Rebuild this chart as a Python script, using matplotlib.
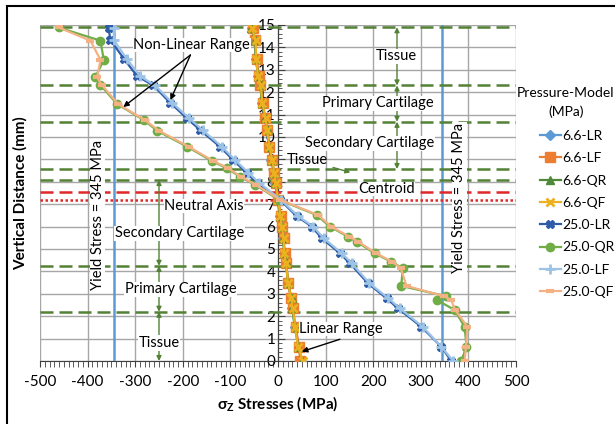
import matplotlib.pyplot as plt
import matplotlib.patches as patches

plt.rcParams['font.family'] = ['Lato', 'DejaVu Sans']
plt.rcParams['axes.unicode_minus'] = False
plt.rcParams['mathtext.fontset'] = 'custom'
plt.rcParams['mathtext.bf'] = 'Lato:bold'
plt.rcParams['mathtext.rm'] = 'Lato'

# node heights through the section (mm)
y_lin = [14.85, 14.33, 13.5, 12.72, 12.3, 11.52, 10.83, 10.3, 9.57, 8.97, 8.4, 7.96,
         7.2, 6.47, 6.0, 5.48, 4.81, 4.36, 3.47, 2.8, 2.35, 1.53, 0.64, 0.0]
y_quad = [14.89, 14.3, 13.44, 12.66, 12.32, 11.47, 10.76, 10.28, 9.57, 8.93, 8.6, 8.23,
          7.86, 7.2, 6.52, 6.0, 5.55, 5.33, 4.81, 4.43, 4.14, 3.35, 2.9, 2.72, 2.28,
          1.53, 0.64, 0.0]

# sigma_z (MPa), 6.6 MPa pressure
lr_66 = [-54, -50, -46, -42, -38, -33, -28, -24, -19, -14, -9, -6,
         0, 5, 8, 11, 14, 16, 22, 27, 30, 36, 44, 48]
lf_66 = [-52, -49, -45, -40, -37, -32, -27, -23, -18, -13, -9, -5,
         1, 6, 9, 12, 14, 17, 22, 27, 31, 37, 44, 47]
qr_66 = [-56, -48, -47, -41, -36, -34, -27, -22, -19, -13, -8, -6,
         -1, 4, 9, 10, 13, 18, 20, 29, 30, 35, 43, 50]
qf_66 = [-55, -47, -46, -42, -36, -33, -26, -23, -18, -12, -8, -5,
         0, 5, 8, 12, 13, 17, 21, 28, 31, 36, 42, 52]

# sigma_z (MPa), 25.0 MPa pressure
lr_25 = [-356, -352, -324, -296, -262, -226, -191, -163, -122, -94, -66, -45,
         4, 39, 71, 92, 130, 151, 189, 228, 252, 301, 343, 364]
lf_25 = [-345, -345, -318, -290, -258, -222, -186, -158, -118, -90, -62, -40,
         6, 42, 74, 96, 134, 155, 192, 232, 256, 304, 343, 368]
qr_25 = [-461, -373, -366, -384, -373, -338, -282, -254, -191, -139, -107, -80,
         -48, 2, 81, 109, 147, 165, 203, 238, 262, 259, 352, 334, 371,
         392, 396, 385]
qf_25 = [-461, -394, -373, -380, -370, -336, -280, -250, -188, -136, -104, -78,
         -46, 4, 84, 112, 150, 168, 206, 240, 258, 270, 348, 364, 372,
         398, 395, 392]

yield_stress = 345

# layer boundaries (mm)
bounds_left = [8.08, 4.25, 2.2, 0.0]
bounds_right = [14.9, 12.3, 10.68, 8.57]
centroid_y = 7.53
neutral_y = 7.19

names_left = ['Secondary Cartilage', 'Primary Cartilage', 'Tissue']
names_right = ['Tissue', 'Primary Cartilage', 'Secondary Cartilage']

green = '#538135'
fs = 10.5

fig = plt.figure(figsize=(6.15, 4.24), dpi=100)
ax = fig.add_axes([40 / 615, 63 / 424, 476 / 615, 336 / 424])

series = [
    ('6.6-LR', lr_66, y_lin, '#5B9BD5', 'D', 5, 1),
    ('6.6-LF', lf_66, y_lin, '#ED7D31', 's', 7, 1),
    ('6.6-QR', qr_66, y_lin, '#4E8A3A', '^', 6, 1),
    ('6.6-QF', qf_66, y_lin, '#EDB120', 'x', 6, 2),
    ('25.0-LR', lr_25, y_lin, '#2F5CA8', 'X', 6, 1),
    ('25.0-QR', qr_25, y_quad, '#70AD47', 'o', 6, 1),
    ('25.0-LF', lf_25, y_lin, '#9DC3E6', '+', 7, 2),
    ('25.0-QF', qf_25, y_quad, '#F4B183', '_', 6, 3),
]
for name, xs, ys, c, m, ms, mew in series:
    ax.plot(xs, ys, color=c, marker=m, ms=ms, mew=mew, lw=1.6, label=name, zorder=4)

# yield stress lines
for s in (-yield_stress, yield_stress):
    ax.axvline(s, color='#5B9BD5', lw=1.8, zorder=3)

# layer boundaries, centroid and neutral axis
for b in bounds_left[:-1] + bounds_right:
    ax.axhline(b, color=green, lw=1.8, ls=(0, (5.2, 2.4)), zorder=3)
ax.axhline(centroid_y, color='#E02828', lw=1.8, ls=(0, (5.2, 2.4)), zorder=3)
ax.axhline(neutral_y, color='#E02828', lw=1.8, ls=(0, (1, 1)), zorder=3)

box = dict(facecolor='white', edgecolor='none', pad=0.5)
green_arrow = dict(arrowstyle='-|>', color=green, lw=1, mutation_scale=7,
                   shrinkA=0, shrinkB=0)

# layer labels with double arrows
label_left = [(-207, 5.7), (-205, 3.2), (-250, 0.8)]
for (tx, ty), name, top, bot in zip(label_left, names_left, bounds_left[:-1], bounds_left[1:]):
    ax.annotate('', xy=(-250, top), xytext=(-250, ty), arrowprops=green_arrow, zorder=5)
    ax.annotate('', xy=(-250, bot), xytext=(-250, ty), arrowprops=green_arrow, zorder=5)
    ax.text(tx, ty, name, ha='center', va='center', fontsize=fs, bbox=box, zorder=6)

label_right = [(249, 13.6), (209, 11.5), (193, 9.72)]
for (tx, ty), name, top, bot in zip(label_right, names_right, bounds_right[:-1], bounds_right[1:]):
    ax.annotate('', xy=(250, top), xytext=(250, ty), arrowprops=green_arrow, zorder=5)
    ax.annotate('', xy=(250, bot), xytext=(250, ty), arrowprops=green_arrow, zorder=5)
    ax.text(tx, ty, name, ha='center', va='center', fontsize=fs, bbox=box, zorder=6)

ax.text(-155, 6.92, 'Neutral Axis', ha='center', va='center', fontsize=fs,
        bbox=dict(facecolor='white', edgecolor='none', pad=0.2), zorder=6)
ax.text(228, 7.68, 'Centroid', ha='center', va='center', fontsize=fs,
        bbox=dict(facecolor='white', edgecolor='none', pad=0.2), zorder=6)

ax.annotate('Tissue', xy=(152, 8.42), xytext=(61, 8.97), ha='center', va='center',
            fontsize=fs, zorder=6,
            arrowprops=dict(arrowstyle='-|>', color=green, lw=1, mutation_scale=7,
                            shrinkA=2, shrinkB=0))

black_arrow = dict(arrowstyle='-|>', color='black', lw=1, mutation_scale=8,
                   shrinkA=0, shrinkB=0)
ax.text(-181, 14.1, 'Non-Linear Range', ha='center', va='center', fontsize=fs,
        bbox=dict(facecolor='white', edgecolor='none', pad=0.2), zorder=6)
ax.annotate('', xy=(-325, 11.34), xytext=(-184, 13.66), arrowprops=black_arrow, zorder=6)
ax.annotate('', xy=(-226, 11.65), xytext=(-184, 13.66), arrowprops=black_arrow, zorder=6)

ax.text(133, 1.43, 'Linear Range', ha='center', va='center', fontsize=fs,
        bbox=dict(facecolor='white', edgecolor='none', pad=0.2), zorder=6)
ax.annotate('', xy=(50, 0.42), xytext=(130, 0.97), arrowprops=black_arrow, zorder=6)

ax.text(-379, 6.5, 'Yield Stress = 345 MPa', rotation=90, ha='center', va='center',
        fontsize=fs, bbox=box, zorder=6)
ax.text(381, 7.3, 'Yield Stress = 345 MPa', rotation=90, ha='center', va='center',
        fontsize=fs, bbox=box, zorder=6)

# axes
ax.set_xlim(-500, 500)
ax.set_ylim(0, 15)
ax.set_xticks(range(-500, 501, 100))
ax.set_xticks(range(-500, 501, 10), minor=True)
ax.set_yticks(range(0, 16))
ax.set_yticks([i * 0.2 for i in range(76)], minor=True)
ax.grid(True, which='major', color='#A6A6A6', lw=1, zorder=0)
ax.set_axisbelow(True)

for side in ('top', 'right'):
    ax.spines[side].set_visible(False)
ax.spines['left'].set_position(('data', 0))
ax.spines['left'].set_color('#404040')
ax.spines['bottom'].set_color('#404040')
ax.tick_params(axis='x', which='both', direction='out', length=4, color='#404040',
               labelsize=11, pad=6)
ax.tick_params(axis='y', which='major', direction='in', length=5, color='#404040',
               labelsize=11, pad=2)
ax.tick_params(axis='y', which='minor', direction='in', length=3, color='#404040')

ax.set_xlabel(r'σ$_{\mathbf{Z}}$ Stresses (MPa)', fontsize=11, fontweight='bold')
ax.set_ylabel('Vertical Distance (mm)', fontsize=11, fontweight='bold')
ax.yaxis.set_label_coords(-0.025, 0.5)

# legend with its title set apart, as in the spreadsheet layout
fig.legend(*ax.get_legend_handles_labels(), loc='upper left',
           bbox_to_anchor=(540 / 615, 1 - 130 / 424), frameon=False, fontsize=10,
           handlelength=1.5, handletextpad=0.1, labelspacing=0.74,
           borderpad=0, borderaxespad=0)
fig.text(566 / 615, 1 - 93 / 424, 'Pressure-Model', ha='center', va='center', fontsize=10)
fig.text(566 / 615, 1 - 112 / 424, '(MPa)', ha='center', va='center', fontsize=10)

# outer frame
fig.add_artist(patches.Rectangle((7 / 615, -0.1), 1.2, (424 - 6) / 424 + 0.1,
                                 transform=fig.transFigure, fill=False,
                                 ec='black', lw=1.5))

fig.savefig('out.png', dpi=100, facecolor='white')
